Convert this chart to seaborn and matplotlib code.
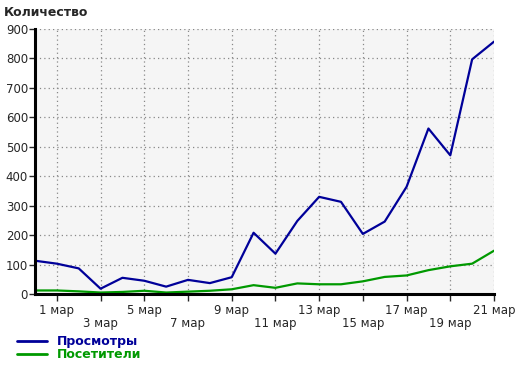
import pandas as pd
import matplotlib.pyplot as plt
import seaborn as sns
from matplotlib.lines import Line2D

# days from 28 Feb to 21 Mar
days = list(range(0, 22))
views = [113, 103, 87, 18, 55, 45, 25, 48, 37, 57, 208, 137,
         248, 330, 313, 204, 246, 364, 562, 471, 797, 857]
visitors = [12, 12, 9, 5, 7, 11, 5, 8, 11, 16, 30, 21,
            36, 33, 33, 43, 58, 63, 81, 94, 103, 147]
tick_days = [1, 3, 5, 7, 9, 11, 13, 15, 17, 19, 21]
tick_labels = ['1 мар', '\n3 мар', '5 мар', '\n7 мар', '9 мар', '\n11 мар',
               '13 мар', '\n15 мар', '17 мар', '\n19 мар', '21 мар']

data = pd.DataFrame({'day': days * 2,
                     'value': views + visitors,
                     'series': ['Просмотры'] * len(days) + ['Посетители'] * len(days)})

sns.set_style('white')
plt.rcParams['font.family'] = ['DejaVu Sans']

blue = '#000099'
green = '#009900'

fig = plt.figure(figsize=(5.2, 3.66), dpi=100)
ax = fig.add_axes([35 / 520, 72 / 366, 459 / 520, 265 / 366])
ax.set_facecolor('#f5f5f5')

sns.lineplot(data=data, x='day', y='value', hue='series',
             palette={'Просмотры': blue, 'Посетители': green},
             linewidth=1.6, legend=False, ax=ax)

ax.set_xlim(0, 21)
ax.set_ylim(0, 900)
ax.set_yticks(range(0, 901, 100))
ax.set_xticks(tick_days)
ax.set_xticklabels(tick_labels, fontsize=8.5, linespacing=1.05)
ax.tick_params(axis='y', labelsize=8.5, length=4, width=1, direction='out', pad=1, left=True)
ax.tick_params(axis='x', length=5, width=1, direction='out', pad=2, bottom=True)
ax.grid(True, color='#888888', linestyle=(0, (1, 2.5)), linewidth=0.9)
ax.set_xlabel('')
ax.set_ylabel('')

for side in ['top', 'right']:
    ax.spines[side].set_visible(False)
for side in ['left', 'bottom']:
    ax.spines[side].set_color('black')
    ax.spines[side].set_linewidth(2.2)

fig.text(4 / 520, 1 - 12 / 366, 'Количество', fontsize=9, fontweight='bold',
         va='center', ha='left')

# legend below the chart
handles = [Line2D([0], [0], color=blue, lw=2), Line2D([0], [0], color=green, lw=2)]
leg = fig.legend(handles, ['Просмотры', 'Посетители'], loc='lower left',
                 bbox_to_anchor=(12 / 520, 0 / 366), frameon=False, fontsize=9,
                 handlelength=2.4, handletextpad=0.8, labelspacing=0.0,
                 borderaxespad=0)
for text, col in zip(leg.get_texts(), [blue, green]):
    text.set_color(col)
    text.set_fontweight('bold')

fig.savefig('out.png', dpi=100)
